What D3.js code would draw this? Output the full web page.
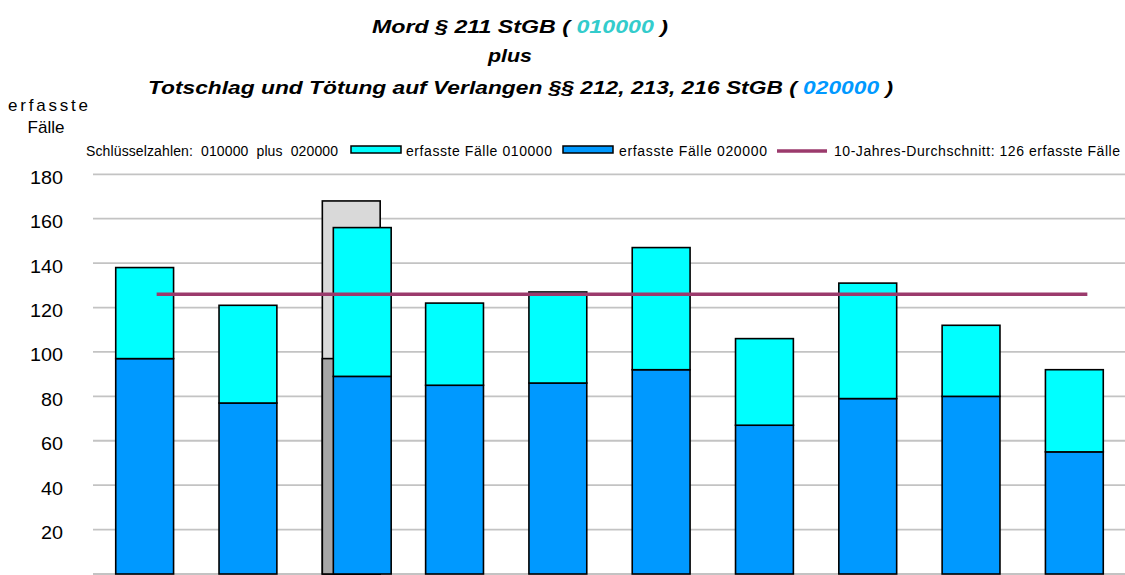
<!DOCTYPE html>
<html>
<head>
<meta charset="utf-8">
<script src="https://cdn.jsdelivr.net/npm/d3@7"></script>
<style>
  body { margin: 0; background: #fff; }
  svg { display: block; font-family: Arial, "Liberation Sans", sans-serif; }
</style>
</head>
<body>
<svg id="chart" width="1125" height="575"></svg>
<script>
// Daten: erfasste Fälle je Jahr (Schlüssel 010000 und 020000)
const jahre = ['2014', '2015', '2016', '2017', '2018', '2019', '2020', '2021', '2022', '2023'];
const faelle020000 = [97, 77, 89, 85, 86, 92, 67, 79, 80, 55];
const faelle010000 = [41, 44, 67, 37, 41, 55, 39, 52, 32, 37];
// grauer Hintergrundbalken (nur im dritten Jahr)
const schatten020000 = [null, null, 97, null, null, null, null, null, null, null];
const schatten010000 = [null, null, 71, null, null, null, null, null, null, null];
const durchschnitt = 126;
const yTicks = [20, 40, 60, 80, 100, 120, 140, 160, 180];

const legendeText = [
  'erfasste Fälle 010000',
  'erfasste Fälle 020000',
  '10-Jahres-Durchschnitt: 126 erfasste Fälle'
];

const farbe = { c010000: '#00ffff', c020000: '#0099ff', linie: '#9b3a6c', grid: '#c3c3c3' };

const svg = d3.select('#chart');

const x = d3.scaleBand().domain(jahre).range([93, 1126]).paddingInner(0.44).paddingOuter(0.22);
const y = d3.scaleLinear().domain([0, 180]).range([574, 174.3]);
const bw = x.bandwidth();
const versatz = 11; // Verschiebung des farbigen Balkens, wenn ein Schattenbalken existiert

// Gitterlinien
svg.append('g')
  .selectAll('line')
  .data([0].concat(yTicks))
  .join('line')
  .attr('x1', 93).attr('x2', 1125)
  .attr('y1', d => y(d)).attr('y2', d => y(d))
  .attr('stroke', farbe.grid)
  .attr('stroke-width', 1.8);

// y-Achse (nur Beschriftung)
const yAxis = svg.append('g')
  .attr('transform', 'translate(93,0)')
  .call(d3.axisLeft(y).tickValues(yTicks).tickSize(0).tickPadding(30));
yAxis.select('.domain').remove();
yAxis.selectAll('text')
  .attr('dy', '0.47em')
  .attr('textLength', d => String(d).length * 11)
  .attr('lengthAdjust', 'spacingAndGlyphs')
  .style('font-size', '19px')
  .style('font-family', 'Arial, "Liberation Sans", sans-serif')
  .attr('fill', '#000');

// Schattenbalken
const schatten = jahre.map((j, i) => ({ jahr: j, unten: schatten020000[i], oben: schatten010000[i] }))
  .filter(d => d.unten != null);
const sg = svg.append('g');
sg.selectAll('rect.hell')
  .data(schatten)
  .join('rect')
  .attr('class', 'hell')
  .attr('x', d => x(d.jahr)).attr('width', bw)
  .attr('y', d => y(d.unten + d.oben))
  .attr('height', d => y(0) - y(d.unten + d.oben))
  .attr('fill', '#d9d9d9').attr('stroke', '#000').attr('stroke-width', 1.6);
sg.selectAll('rect.dunkel')
  .data(schatten)
  .join('rect')
  .attr('class', 'dunkel')
  .attr('x', d => x(d.jahr)).attr('width', bw)
  .attr('y', d => y(d.unten))
  .attr('height', d => y(0) - y(d.unten))
  .attr('fill', '#a6a6a6').attr('stroke', '#000').attr('stroke-width', 1.6);

// gestapelte Balken
const tabelle = jahre.map((j, i) => ({ jahr: j, f020000: faelle020000[i], f010000: faelle010000[i], idx: i }));
const stack = d3.stack().keys(['f020000', 'f010000'])(tabelle);
const xPos = d => x(d.data.jahr) + (schatten020000[d.data.idx] != null ? versatz : 0);

svg.append('g')
  .selectAll('g')
  .data(stack)
  .join('g')
  .attr('fill', s => s.key === 'f020000' ? farbe.c020000 : farbe.c010000)
  .selectAll('rect')
  .data(s => s)
  .join('rect')
  .attr('x', xPos)
  .attr('width', bw)
  .attr('y', d => y(d[1]))
  .attr('height', d => y(d[0]) - y(d[1]))
  .attr('stroke', '#000')
  .attr('stroke-width', 1.6);

// Durchschnittslinie
svg.append('line')
  .attr('x1', x(jahre[0]) + bw / 2 + 12)
  .attr('x2', x(jahre[jahre.length - 1]) + bw / 2 + 13)
  .attr('y1', y(durchschnitt)).attr('y2', y(durchschnitt))
  .attr('stroke', farbe.linie)
  .attr('stroke-width', 3.5);

// Titel
const titel = svg.append('g')
  .attr('font-weight', 'bold')
  .attr('font-style', 'italic')
  .attr('font-size', 19)
  .attr('text-anchor', 'middle');

const t1 = titel.append('text').attr('x', 520).attr('y', 33)
  .attr('textLength', 296).attr('lengthAdjust', 'spacingAndGlyphs');
t1.append('tspan').text('Mord § 211 StGB ( ');
t1.append('tspan').attr('fill', '#33cccc').text('010000');
t1.append('tspan').text(' )');

titel.append('text').attr('x', 510).attr('y', 62)
  .attr('textLength', 44).attr('lengthAdjust', 'spacingAndGlyphs')
  .text('plus');

const t3 = titel.append('text').attr('x', 520.5).attr('y', 94)
  .attr('textLength', 745).attr('lengthAdjust', 'spacingAndGlyphs');
t3.append('tspan').text('Totschlag und Tötung auf Verlangen §§ 212, 213, 216 StGB ( ');
t3.append('tspan').attr('fill', '#0099ff').text('020000');
t3.append('tspan').text(' )');

// y-Achsentitel
const yt = svg.append('g').attr('font-size', 17).attr('text-anchor', 'middle');
yt.append('text').attr('x', 48).attr('y', 110.5)
  .attr('textLength', 80).attr('lengthAdjust', 'spacing').text('erfasste');
yt.append('text').attr('x', 46).attr('y', 133).text('Fälle');

// Legende
const lg = svg.append('g').attr('font-size', 14);
lg.append('text').attr('x', 86).attr('y', 156)
  .style('white-space', 'pre')
  .attr('textLength', 252).attr('lengthAdjust', 'spacing')
  .text('Schlüsselzahlen:  010000  plus  020000');

const legEintraege = [
  { x: 351, farbe: farbe.c010000, typ: 'rect', tx: 406, tl: 146 },
  { x: 563, farbe: farbe.c020000, typ: 'rect', tx: 619, tl: 148 },
  { x: 777, farbe: farbe.linie, typ: 'line', tx: 834, tl: 286 }
];
legEintraege.forEach((e, i) => {
  if (e.typ === 'rect') {
    lg.append('rect').attr('x', e.x).attr('y', 146).attr('width', 50).attr('height', 7)
      .attr('fill', e.farbe).attr('stroke', '#000').attr('stroke-width', 1.5);
  } else {
    lg.append('line').attr('x1', e.x).attr('x2', e.x + 50).attr('y1', 151).attr('y2', 151)
      .attr('stroke', e.farbe).attr('stroke-width', 3.5);
  }
  lg.append('text').attr('x', e.tx).attr('y', 156)
    .attr('textLength', e.tl).attr('lengthAdjust', 'spacing')
    .text(legendeText[i]);
});
</script>
</body>
</html>
